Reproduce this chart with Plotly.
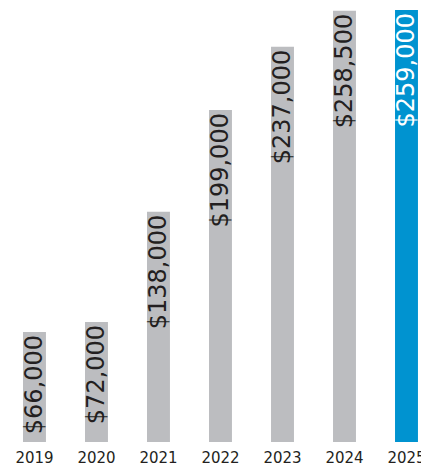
import plotly.graph_objects as go

years = ["2019", "2020", "2021", "2022", "2023", "2024", "2025"]
values = [66000, 72000, 138000, 199000, 237000, 258500, 259000]
labels = ["$66,000", "$72,000", "$138,000", "$199,000", "$237,000", "$258,500", "$259,000"]

gray = "#BCBDC0"
blue = "#0093D0"
colors = [gray] * 6 + [blue]
text_colors = ["#231F20"] * 6 + ["#FFFFFF"]

fig = go.Figure(go.Bar(
    x=years, y=values, text=labels,
    marker=dict(color=colors, line=dict(width=0)),
    textposition="inside", insidetextanchor="end", textangle=-90,
    constraintext="none",
    textfont=dict(family="DejaVu Sans", size=24, color=text_colors),
    hoverinfo="skip",
))

# page body adds an 8px offset, so the figure is sized to fit inside the window
fig.update_layout(
    width=421, height=458,
    margin=dict(l=0, r=0, t=0, b=24),
    paper_bgcolor="white", plot_bgcolor="white",
    bargap=0.63, showlegend=False,
    xaxis=dict(type="category", range=[-0.427, 6.363], showgrid=False, zeroline=False,
               showline=False, ticks="", ticklabelstandoff=5, automargin=False,
               tickfont=dict(family="DejaVu Sans", size=15, color="#231F20")),
    yaxis=dict(range=[0, 260200], visible=False, automargin=False),
)

fig.write_html("out.html")
